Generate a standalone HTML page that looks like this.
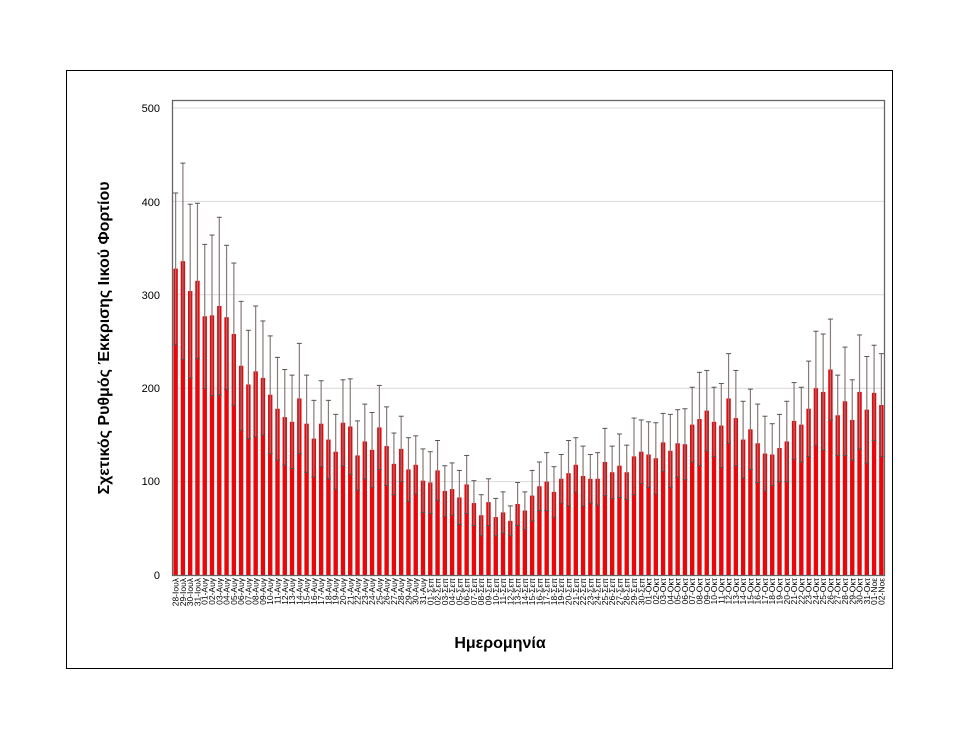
<!DOCTYPE html>
<html><head><meta charset="utf-8"><style>
html,body{margin:0;padding:0;background:#fff;}
svg{display:block;font-family:"Liberation Sans",sans-serif;}
</style></head><body>
<svg id="s" width="960" height="742" xmlns="http://www.w3.org/2000/svg">
<rect x="66.5" y="70.5" width="826" height="598" fill="#fff" stroke="#000" stroke-width="1"/>
<g id="grid"></g>
<g id="bars"></g>
<rect x="172.5" y="100.5" width="712" height="475" fill="none" stroke="#666" stroke-width="1.3"/>
<g font-size="11" fill="#000" text-anchor="end">
<text x="160" y="579">0</text><text x="160" y="485">100</text><text x="160" y="392">200</text><text x="160" y="299">300</text><text x="160" y="206">400</text><text x="160" y="112">500</text>
</g>
<text transform="translate(109,338) rotate(-90)" text-anchor="middle" font-size="16" font-weight="bold">Σχετικός Ρυθμός Έκκρισης Ιικού Φορτίου</text>
<text x="500" y="648" text-anchor="middle" font-size="16" font-weight="bold">Ημερομηνία</text>
<g id="labels" font-size="8.5" fill="#000" text-anchor="end"></g>
</svg>
<script>
var labels="28-Ιουλ 29-Ιουλ 30-Ιουλ 31-Ιουλ 01-Αυγ 02-Αυγ 03-Αυγ 04-Αυγ 05-Αυγ 06-Αυγ 07-Αυγ 08-Αυγ 09-Αυγ 10-Αυγ 11-Αυγ 12-Αυγ 13-Αυγ 14-Αυγ 15-Αυγ 16-Αυγ 17-Αυγ 18-Αυγ 19-Αυγ 20-Αυγ 21-Αυγ 22-Αυγ 23-Αυγ 24-Αυγ 25-Αυγ 26-Αυγ 27-Αυγ 28-Αυγ 29-Αυγ 30-Αυγ 31-Αυγ 01-Σεπ 02-Σεπ 03-Σεπ 04-Σεπ 05-Σεπ 06-Σεπ 07-Σεπ 08-Σεπ 09-Σεπ 10-Σεπ 11-Σεπ 12-Σεπ 13-Σεπ 14-Σεπ 15-Σεπ 16-Σεπ 17-Σεπ 18-Σεπ 19-Σεπ 20-Σεπ 21-Σεπ 22-Σεπ 23-Σεπ 24-Σεπ 25-Σεπ 26-Σεπ 27-Σεπ 28-Σεπ 29-Σεπ 30-Σεπ 01-Οκτ 02-Οκτ 03-Οκτ 04-Οκτ 05-Οκτ 06-Οκτ 07-Οκτ 08-Οκτ 09-Οκτ 10-Οκτ 11-Οκτ 12-Οκτ 13-Οκτ 14-Οκτ 15-Οκτ 16-Οκτ 17-Οκτ 18-Οκτ 19-Οκτ 20-Οκτ 21-Οκτ 22-Οκτ 23-Οκτ 24-Οκτ 25-Οκτ 26-Οκτ 27-Οκτ 28-Οκτ 29-Οκτ 30-Οκτ 31-Οκτ 01-Νοε 02-Νοε".split(" ");
var d=[[328,409],[336,441],[304,397],[315,398],[277,354],[278,364],[288,383],[276,353],[258,334],[224,293],[204,262],[218,288],[211,272],[193,256],[178,233],[169,220],[164,214],[189,248],[162,214],[146,187],[162,208],[145,187],[132,172],[163,209],[159,210],[128,165],[143,183],[134,174],[158,203],[138,180],[119,152],[135,170],[113,147],[118,149],[101,135],
[99,132],[112,144],[90,117],[92,120],[83,112],[97,128],[77,101],[64,86],[78,103],[62,82],[67,89],[58,74],[76,99],[69,89],[85,112],[95,121],[100,131],[89,116],[103,129],[109,144],[118,147],[106,138],[103,129],[103,131],[121,157],[110,138],[117,151],[110,139],[127,168],[132,166],
[129,164],[125,163],[142,173],[133,172],[141,177],[140,178],[161,201],[167,217],[176,219],[164,201],[160,205],[189,237],[168,219],[145,186],[156,199],[141,183],[130,170],[129,162],[136,172],[143,186],[165,206],[161,201],[178,229],[200,261],[196,258],[220,274],[171,214],[186,244],[166,209],[196,257],[177,234],[195,246],[182,237]];
var ns="http://www.w3.org/2000/svg";
function el(p,t,a,txt){var e=document.createElementNS(ns,t);for(var k in a)e.setAttribute(k,a[k]);if(txt)e.textContent=txt;document.getElementById(p).appendChild(e);}
function Y(v){return 575-v*0.934;}
for(var g=1;g<=5;g++){var y=Y(g*100);el("grid","line",{x1:172,x2:885,y1:y,y2:y,stroke:"#d9d9d9","stroke-width":1});}
var step=713/98;
for(var i=0;i<98;i++){
 var cx=172+(i+0.5)*step,v=d[i][0],u=d[i][1],l=2*v-u;
 el("bars","rect",{x:cx-2.2,y:Y(v),width:4.4,height:575-Y(v),fill:"#e8070b"});
 el("bars","line",{x1:cx,x2:cx,y1:Y(l),y2:Y(u),stroke:"#8a7a7a","stroke-width":1.2});
 el("bars","line",{x1:cx-2.5,x2:cx+2.5,y1:Y(u),y2:Y(u),stroke:"#555","stroke-width":1});
 el("bars","line",{x1:cx-2.5,x2:cx+2.5,y1:Y(l),y2:Y(l),stroke:"#555","stroke-width":1});
 el("labels","text",{transform:"translate("+(cx+3)+",578) rotate(-90)"},labels[i]);
}
</script>
</body></html>
